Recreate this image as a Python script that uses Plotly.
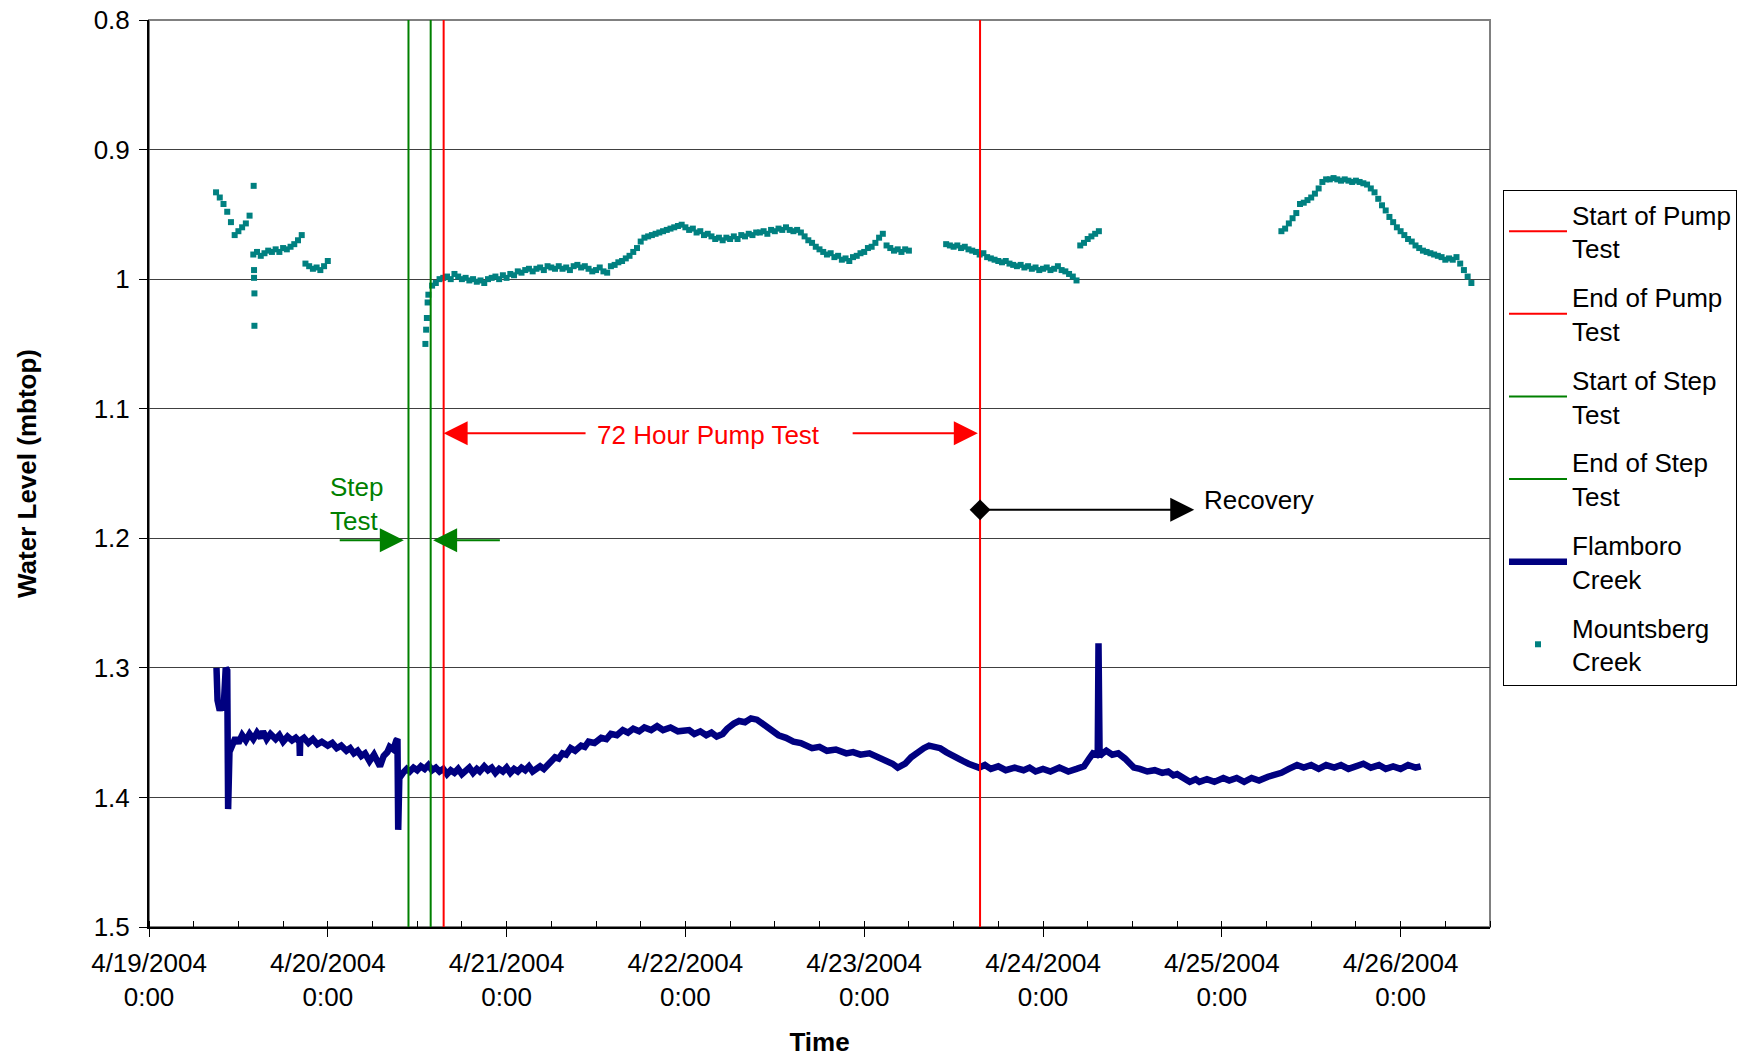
import pandas as pd
import plotly.graph_objects as go

BASE = pd.Timestamp("2004-04-19 00:00")

# ---------------- data (hours after 4/19/2004 0:00, water level in mbtop) -------------
DAY_TICKS = [0, 1, 2, 3, 4, 5, 6, 7]
DAY_LABELS = ["4/19/2004<br>0:00", "4/20/2004<br>0:00", "4/21/2004<br>0:00", "4/22/2004<br>0:00",
              "4/23/2004<br>0:00", "4/24/2004<br>0:00", "4/25/2004<br>0:00", "4/26/2004<br>0:00"]
Y_TICKS = [0.8, 0.9, 1.0, 1.1, 1.2, 1.3, 1.4, 1.5]
Y_LABELS = ["0.8", "0.9", "1", "1.1", "1.2", "1.3", "1.4", "1.5"]

# event times (hours)
START_STEP_H = 34.83
END_STEP_H = 37.81
START_PUMP_H = 39.55
END_PUMP_H = 111.55

# Flamboro Creek (hour, level)
FLAMBORO = [
    (9.06, 1.300), (9.2, 1.325), (9.5, 1.333), (9.8, 1.327), (10.0, 1.333), (10.3, 1.300),
    (10.5, 1.302), (10.62, 1.409), (10.8, 1.365), (11.2, 1.360), (11.6, 1.354), (12.0, 1.358),
    (12.5, 1.352), (13.0, 1.356), (13.5, 1.351), (14.0, 1.355), (14.5, 1.350), (15.0, 1.354),
    (15.3, 1.349), (15.8, 1.355), (16.3, 1.351), (17.0, 1.355), (17.5, 1.352), (18.0, 1.357),
    (18.6, 1.353), (19.2, 1.356), (19.7, 1.354), (20.2, 1.357), (20.25, 1.368), (20.3, 1.356),
    (20.8, 1.354), (21.4, 1.358), (22.0, 1.355), (22.6, 1.359), (23.2, 1.357), (24.0, 1.360),
    (24.6, 1.358), (25.2, 1.362), (25.8, 1.360), (26.5, 1.364), (27.0, 1.362), (27.5, 1.366),
    (28.0, 1.364), (28.5, 1.368), (29.0, 1.366), (29.6, 1.372), (30.2, 1.367), (30.6, 1.373),
    (31.0, 1.376), (31.5, 1.368), (32.0, 1.365), (32.3, 1.361), (32.8, 1.363), (33.2, 1.356),
    (33.35, 1.355), (33.45, 1.425), (33.6, 1.385), (34.1, 1.381), (34.6, 1.378), (35.0, 1.380),
    (35.5, 1.377), (36.0, 1.379), (36.5, 1.376), (37.0, 1.378), (37.5, 1.375), (38.0, 1.379),
    (38.5, 1.377), (39.0, 1.380), (39.5, 1.378), (40.0, 1.382), (40.5, 1.379), (41.0, 1.381),
    (41.5, 1.378), (42.0, 1.382), (42.5, 1.379), (43.0, 1.377), (43.5, 1.381), (44.0, 1.378),
    (44.4, 1.380), (45.0, 1.376), (45.5, 1.379), (46.0, 1.377), (46.5, 1.381), (47.0, 1.378),
    (47.5, 1.380), (48.0, 1.377), (48.5, 1.381), (49.0, 1.378), (49.5, 1.380), (50.0, 1.377),
    (50.5, 1.379), (51.0, 1.376), (51.5, 1.380), (52.0, 1.378), (52.5, 1.376), (53.0, 1.378),
    (53.4, 1.375), (54.0, 1.372), (54.5, 1.369), (55.0, 1.370), (55.5, 1.366), (56.0, 1.367),
    (56.6, 1.362), (57.2, 1.364), (58.0, 1.360), (58.5, 1.361), (59.0, 1.357), (59.8, 1.358),
    (60.7, 1.354), (61.4, 1.355), (62.0, 1.351), (62.8, 1.352), (63.6, 1.348), (64.3, 1.350),
    (65.0, 1.347), (65.8, 1.349), (66.5, 1.346), (67.4, 1.348), (68.2, 1.345), (69.0, 1.348),
    (70.0, 1.346), (71.0, 1.349), (72.5, 1.348), (73.2, 1.351), (74.0, 1.349), (74.8, 1.352),
    (75.5, 1.350), (76.2, 1.353), (77.0, 1.351), (77.6, 1.347), (78.5, 1.343), (79.2, 1.341),
    (80.0, 1.342), (80.8, 1.339), (81.6, 1.340), (82.3, 1.343), (83.0, 1.346), (83.8, 1.349),
    (84.5, 1.352), (85.5, 1.354), (86.5, 1.357), (87.5, 1.358), (89.0, 1.362), (90.0, 1.361),
    (91.0, 1.364), (92.2, 1.363), (93.6, 1.366), (94.5, 1.365), (95.5, 1.367), (96.7, 1.366),
    (97.9, 1.369), (99.0, 1.371), (99.8, 1.374), (100.5, 1.377), (101.5, 1.374), (102.3, 1.369),
    (103.2, 1.365), (104.0, 1.362), (104.7, 1.360), (105.4, 1.361), (106.2, 1.362), (107.0, 1.365),
    (107.8, 1.367), (108.5, 1.370), (109.3, 1.372), (110.0, 1.374), (110.7, 1.376), (111.4, 1.377),
    (112.2, 1.375), (113.0, 1.378), (114.0, 1.376), (115.0, 1.379), (116.2, 1.377), (117.4, 1.379),
    (118.2, 1.377), (119.0, 1.380), (120.0, 1.378), (121.0, 1.380), (122.2, 1.377), (123.4, 1.380),
    (124.5, 1.378), (125.5, 1.376), (126.2, 1.370), (126.7, 1.366), (127.2, 1.367), (127.35, 1.365),
    (127.45, 1.281), (127.6, 1.368), (128.0, 1.366), (128.5, 1.364), (129.3, 1.367), (130.1, 1.366),
    (131.0, 1.370), (131.6, 1.374), (132.2, 1.377), (133.0, 1.378), (134.0, 1.380), (135.0, 1.379),
    (136.0, 1.381), (136.8, 1.380), (137.5, 1.383), (138.0, 1.382), (138.8, 1.385), (139.7, 1.388),
    (140.5, 1.386), (141.0, 1.388), (142.0, 1.386), (143.0, 1.388), (144.2, 1.385), (145.0, 1.387),
    (146.0, 1.385), (147.0, 1.388), (148.0, 1.385), (149.0, 1.387), (150.2, 1.384), (151.0, 1.383),
    (152.0, 1.381), (153.0, 1.378), (154.1, 1.375), (155.0, 1.377), (156.0, 1.375), (157.0, 1.378),
    (158.0, 1.375), (159.1, 1.377), (160.0, 1.375), (161.0, 1.378), (162.0, 1.376), (163.0, 1.374),
    (164.0, 1.377), (165.1, 1.375), (166.0, 1.378), (167.0, 1.376), (168.0, 1.378), (169.0, 1.375),
    (170.0, 1.377), (170.7, 1.376),
]

# Mountsberg Creek logger segments: (first reading hour, readings every 30 min)
MB_STEP_H = 0.5
MB_SEG1_START = 9.0
MB_SEG1 = [0.933, 0.937, 0.942, 0.948, 0.956, 0.966, 0.963, 0.960, 0.957, 0.951, 0.981, 0.979,
           0.982, 0.980, 0.978, 0.979, 0.977, 0.979, 0.976, 0.977, 0.975, 0.973, 0.970, 0.966,
           0.988, 0.990, 0.992, 0.991, 0.993, 0.990, 0.986]
MB_SEG2_START = 37.5
MB_SEG2 = [1.012, 1.005, 1.003, 1.000, 0.999, 0.998, 1.000, 0.996, 0.998, 1.000, 0.999, 1.001,
           1.000, 1.002, 1.001, 1.003, 1.000, 0.999, 0.998, 1.000, 0.997, 0.999, 0.996, 0.997,
           0.994, 0.995, 0.993, 0.992, 0.994, 0.992, 0.991, 0.993, 0.990, 0.991, 0.992, 0.990,
           0.992, 0.991, 0.993, 0.990, 0.989, 0.991, 0.990, 0.992, 0.994, 0.993, 0.991, 0.994,
           0.995, 0.990, 0.989, 0.987, 0.986, 0.984, 0.982, 0.979, 0.976, 0.971, 0.968, 0.967,
           0.966, 0.965, 0.964, 0.963, 0.962, 0.961, 0.960, 0.959, 0.958, 0.960, 0.962, 0.961,
           0.964, 0.963, 0.966, 0.965, 0.967, 0.969, 0.968, 0.970, 0.968, 0.969, 0.967, 0.969,
           0.966, 0.967, 0.965, 0.966, 0.964, 0.964, 0.963, 0.965, 0.962, 0.963, 0.961, 0.962,
           0.960, 0.962, 0.963, 0.962, 0.964, 0.967, 0.970, 0.972, 0.975, 0.977, 0.979, 0.981,
           0.980, 0.983, 0.982, 0.985, 0.984, 0.986, 0.983, 0.982, 0.980, 0.979, 0.976, 0.975,
           0.972, 0.968, 0.965, 0.974, 0.976, 0.978, 0.977, 0.979, 0.977, 0.978]
MB_SEG3_START = 107.0
MB_SEG3 = [0.973, 0.974, 0.975, 0.974, 0.976, 0.975, 0.977, 0.978, 0.979, 0.981, 0.980, 0.983,
           0.984, 0.985, 0.986, 0.987, 0.986, 0.988, 0.989, 0.990, 0.989, 0.991, 0.990, 0.992,
           0.991, 0.993, 0.992, 0.991, 0.993, 0.992, 0.990, 0.993, 0.994, 0.996, 0.998, 1.001]
MB_SEG4_START = 125.0
MB_SEG4 = [0.974, 0.972, 0.969, 0.967, 0.965, 0.963]
MB_SEG5_START = 152.0
MB_SEG5 = [0.963, 0.961, 0.957, 0.953, 0.949, 0.942, 0.941, 0.939, 0.937, 0.934, 0.930, 0.925,
           0.923, 0.923, 0.922, 0.923, 0.924, 0.923, 0.924, 0.925, 0.924, 0.925, 0.926, 0.927,
           0.930, 0.933, 0.938, 0.943, 0.947, 0.952, 0.956, 0.960, 0.963, 0.966, 0.969, 0.971,
           0.974, 0.976, 0.978, 0.979, 0.980, 0.981, 0.982, 0.983, 0.985, 0.984, 0.985, 0.983,
           0.988, 0.993, 0.998, 1.003]
# isolated Mountsberg readings
MB_EXTRA_HOURS = [14.05, 14.1, 14.1, 14.15, 14.15, 37.1, 37.2, 37.3, 37.4]
MB_EXTRA_LEVEL = [0.928, 0.993, 0.999, 1.011, 1.036, 1.050, 1.039, 1.030, 1.018]


# ---------------- helpers ----------------
def to_time(hours):
    return [BASE + pd.Timedelta(hours=h) for h in hours]


flam_h = [p[0] for p in FLAMBORO]
flam_v = [p[1] for p in FLAMBORO]

mb_h, mb_v = [], []
for start, seg in [(MB_SEG1_START, MB_SEG1), (MB_SEG2_START, MB_SEG2), (MB_SEG3_START, MB_SEG3),
                   (MB_SEG4_START, MB_SEG4), (MB_SEG5_START, MB_SEG5)]:
    for i, v in enumerate(seg):
        mb_h.append(start + i * MB_STEP_H)
        mb_v.append(v)
mb_h += MB_EXTRA_HOURS
mb_v += MB_EXTRA_LEVEL

FONT = "Liberation Sans, Arial, sans-serif"
FS = 26
RED = "#FF0000"
GREEN = "#008000"
NAVY = "#000080"
TEAL = "#008080"

fig = go.Figure()

fig.add_trace(go.Scatter(
    x=to_time(mb_h), y=mb_v, mode="markers", name="Mountsberg<br>Creek",
    marker=dict(symbol="square", size=6, color=TEAL, line=dict(width=0)),
    legendrank=6, legendgroup="g6"))

fig.add_trace(go.Scatter(
    x=to_time(flam_h), y=flam_v, mode="lines", name="Flamboro<br>Creek",
    line=dict(color=NAVY, width=6.5), legendrank=5, legendgroup="g5"))

events = [
    ("Start of Pump<br>Test", START_PUMP_H, RED, 1),
    ("End of Pump<br>Test", END_PUMP_H, RED, 2),
    ("Start of Step<br>Test", START_STEP_H, GREEN, 3),
    ("End of Step<br>Test", END_STEP_H, GREEN, 4),
]
for name, h, col, rank in events:
    fig.add_trace(go.Scatter(
        x=to_time([h, h]), y=[Y_TICKS[0], Y_TICKS[-1]], mode="lines", name=name,
        line=dict(color=col, width=2), legendrank=rank, legendgroup=f"g{rank}"))

# diamond at start of recovery arrow
fig.add_trace(go.Scatter(
    x=to_time([END_PUMP_H]), y=[1.178], mode="markers", showlegend=False,
    marker=dict(symbol="diamond", size=16, color="black")))


def arrow(x_head, y_head, x_tail, y_tail, color):
    fig.add_annotation(
        x=to_time([x_head])[0], y=y_head, ax=to_time([x_tail])[0], ay=y_tail,
        xref="x", yref="y", axref="x", ayref="y", text="", showarrow=True,
        arrowhead=2, arrowsize=2.4, arrowwidth=2, arrowcolor=color, standoff=0)


arrow(START_PUMP_H, 1.119, 58.8, 1.119, RED)
arrow(END_PUMP_H - 0.3, 1.119, 94.25, 1.119, RED)
arrow(34.2, 1.2016, 25.4, 1.2016, GREEN)
arrow(38.14, 1.2016, 47.3, 1.2016, GREEN)
arrow(140.3, 1.178, END_PUMP_H, 1.178, "black")

fig.add_annotation(x=to_time([75.1])[0], y=1.1206, text="72 Hour Pump Test", showarrow=False,
                   font=dict(color=RED, size=FS, family=FONT), xanchor="center", yanchor="middle")
fig.add_annotation(x=to_time([24.0])[0], y=1.1736, text="Step<br>Test", showarrow=False,
                   align="left", font=dict(color=GREEN, size=FS, family=FONT),
                   xanchor="left", yanchor="middle")
fig.add_annotation(x=to_time([141.3])[0], y=1.1706, text="Recovery", showarrow=False,
                   font=dict(color="black", size=FS, family=FONT), xanchor="left", yanchor="middle")

# plot-area frame (grey top/right border)
fig.add_shape(type="rect", xref="paper", yref="paper", x0=0, x1=1, y0=0, y1=1,
              line=dict(color="#808080", width=2), layer="below")

fig.update_layout(
    width=1745, height=1059,
    margin=dict(l=149, r=255, t=20, b=132, autoexpand=False),
    paper_bgcolor="white", plot_bgcolor="white",
    font=dict(family=FONT, size=FS, color="black"),
    showlegend=True,
    legend=dict(x=1.0097, y=0.8126, xanchor="left", yanchor="top",
                bordercolor="black", borderwidth=1, bgcolor="white",
                font=dict(size=FS, family=FONT, color="black"),
                traceorder="grouped", tracegroupgap=12, itemwidth=58),
    xaxis=dict(
        type="date", automargin=False,
        range=[BASE, BASE + pd.Timedelta(hours=180)],
        tickmode="array",
        tickvals=to_time([d * 24 for d in DAY_TICKS]),
        ticktext=DAY_LABELS,
        ticks="outside", ticklen=8, tickwidth=1, tickcolor="black",
        showline=True, linecolor="black", linewidth=2, mirror=False,
        showgrid=False, zeroline=False,
        ticklabelstandoff=4,
        minor=dict(tickmode="array", tickvals=to_time([h * 6 for h in range(0, 31)]),
                   ticks="inside", ticklen=6, tickwidth=1, tickcolor="black", showgrid=False),
        title=dict(text="<b>Time</b>", standoff=22, font=dict(size=FS, family=FONT)),
    ),
    yaxis=dict(
        range=[1.5, 0.8], automargin=False,
        tickmode="array", tickvals=Y_TICKS, ticktext=Y_LABELS,
        ticks="outside", ticklen=8, tickwidth=1, tickcolor="black",
        showline=True, linecolor="black", linewidth=2,
        showgrid=True, gridcolor="#404040", gridwidth=1, zeroline=False,
        ticklabelstandoff=4,
        title=dict(text="<b>Water Level (mbtop)</b>", standoff=50, font=dict(size=FS, family=FONT)),
    ),
)

# remove the browser's default 8px page margin so the figure fills the window exactly
fig.write_html("out.html", config={"displayModeBar": False},
               post_script="document.body.style.margin='0';")
